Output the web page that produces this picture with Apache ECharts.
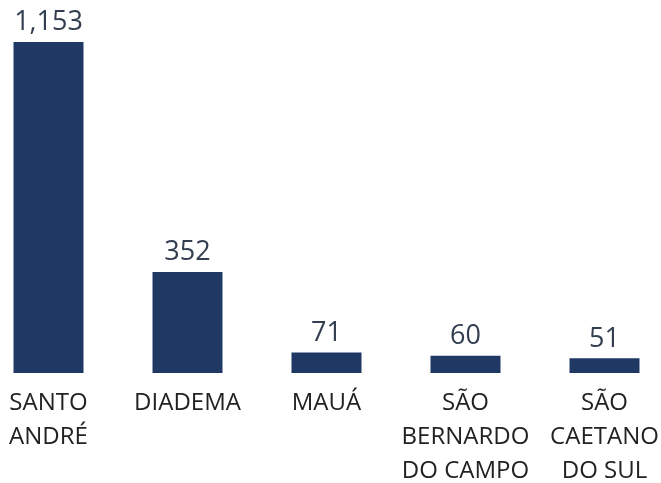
<!DOCTYPE html>
<html>
<head>
<meta charset="utf-8">
<script src="https://cdn.jsdelivr.net/npm/echarts@6/dist/echarts.min.js"></script>
<style>
  html, body { margin: 0; padding: 0; background: #fff; }
  #chart { width: 661px; height: 483px; }
</style>
</head>
<body>
<div id="chart"></div>
<script>
  // municípios e valores
  var cidades = ['SANTO\nANDRÉ', 'DIADEMA', 'MAUÁ', 'SÃO\nBERNARDO\nDO CAMPO', 'SÃO\nCAETANO\nDO SUL'];
  var valores = [1153, 352, 71, 60, 51];

  var myChart = echarts.init(document.getElementById('chart'));

  var option = {
    animation: false,
    grid: {
      left: -21,
      right: -13,
      top: 42,
      bottom: 110,
      containLabel: false,
      outerBoundsMode: 'none'
    },
    xAxis: {
      type: 'category',
      data: cidades,
      axisLine: { show: false },
      axisTick: { show: false },
      axisLabel: {
        interval: 0,
        margin: 13,
        color: '#222',
        fontFamily: 'Open Sans',
        fontSize: 24,
        lineHeight: 34
      }
    },
    yAxis: {
      type: 'value',
      min: 0,
      max: 1153,
      show: false,
      splitLine: { show: false }
    },
    series: [
      {
        type: 'bar',
        data: valores,
        barWidth: 70,
        itemStyle: { color: '#1F3864' },
        label: {
          show: true,
          position: 'top',
          distance: 6,
          color: '#333F50',
          fontFamily: 'Open Sans',
          fontSize: 27,
          formatter: function (p) {
            return p.value.toLocaleString('en-US');
          }
        }
      }
    ]
  };

  myChart.setOption(option);
</script>
</body>
</html>
